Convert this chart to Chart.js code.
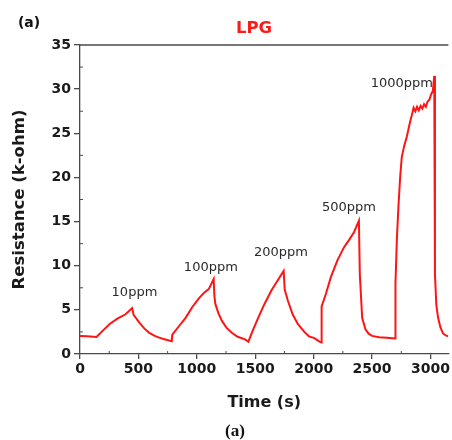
<!DOCTYPE html>
<html>
<head>
<meta charset="utf-8">
<script src="https://cdn.jsdelivr.net/npm/chart.js@4.4.0/dist/chart.umd.min.js"></script>
<style>
  html, body { margin: 0; padding: 0; background: #fff; }
  #wrap { width: 452px; height: 440px; position: relative; }
</style>
</head>
<body>
<div id="wrap"><canvas id="lpgChart" width="452" height="440"></canvas></div>
<script>
// temps (s) et résistance (k-ohm)
const timeS = [
    0, 60, 141, 200, 254, 320, 390, 446, 460, 508, 550, 593, 640, 678, 730, 785,
    790, 850, 904, 960, 1017, 1060, 1102, 1144, 1150, 1158, 1185, 1215, 1255, 1299, 1350, 1412, 1441,
    1480, 1525, 1580, 1638, 1690, 1743, 1752, 1780, 1820, 1864, 1920, 1960, 2006, 2050, 2066,
    2068, 2104, 2147, 2203, 2260, 2302, 2345, 2387, 2395, 2415, 2443, 2470, 2500, 2560, 2627, 2697,
    2700, 2712, 2725, 2740, 2754, 2775, 2797, 2820, 2839, 2855, 2870, 2885, 2900, 2915, 2930,
    2945, 2960, 2975, 2990, 3005, 3020, 3032, 3038, 3050, 3065, 3085,
    3108, 3130, 3153
];
const resistance = [
    2.05, 2.0, 1.93, 2.7, 3.4, 4.0, 4.5, 5.2, 4.4, 3.56, 2.9, 2.4, 2.05, 1.85, 1.65, 1.45,
    2.2, 3.2, 4.1, 5.3, 6.3, 6.9, 7.35, 8.5, 6.6, 5.7, 4.6, 3.75, 2.95, 2.4, 1.95, 1.65, 1.4,
    2.7, 4.1, 5.7, 7.2, 8.3, 9.4, 7.3, 6.0, 4.5, 3.4, 2.5, 2.0, 1.8, 1.4, 1.3,
    5.4, 6.8, 8.7, 10.6, 12.1, 12.9, 13.8, 15.1, 9.0, 4.1, 2.8, 2.3, 2.05, 1.9, 1.85, 1.75,
    8.0, 13.0, 16.6, 20.0, 22.3, 23.6, 24.6, 26.0, 27.0, 27.9, 27.5, 28.0, 27.6, 28.1, 27.8,
    28.3, 28.0, 28.6, 28.8, 29.4, 29.8, 31.5, 9.0, 5.5, 4.1, 3.0,
    2.3, 2.1, 2.0
];

// étiquettes des concentrations
const labelTexts = ['10ppm', '100ppm', '200ppm', '500ppm', '1000ppm'];
const labelX = [466, 1120, 1720, 2302, 2754];
const labelY = [7.0, 9.8, 11.5, 16.6, 30.6];

// graduations
const xMajor = [0, 500, 1000, 1500, 2000, 2500, 3000];
const xMinor = [250, 750, 1250, 1750, 2250, 2750];
const yMajor = [0, 5, 10, 15, 20, 25, 30, 35];
const yMinor = [2.5, 7.5, 12.5, 17.5, 22.5, 27.5, 32.5];

const axisColor = '#4a4a4a';

// Plugin pour les textes et les petites graduations intérieures
const extras = {
    id: 'extras',
    afterDatasetsDraw(chart) {
        const ctx = chart.ctx;
        const area = chart.chartArea;
        const xs = chart.scales.x;
        const ys = chart.scales.y;
        ctx.save();
        ctx.strokeStyle = axisColor;
        ctx.lineWidth = 1.3;
        // ligne du haut
        ctx.beginPath();
        ctx.moveTo(area.left, area.top);
        ctx.lineTo(area.right, area.top);
        ctx.stroke();
        // graduations mineures (vers l'intérieur)
        ctx.lineWidth = 1;
        for (const v of xMinor) {
            const px = xs.getPixelForValue(v);
            ctx.beginPath();
            ctx.moveTo(px, area.bottom);
            ctx.lineTo(px, area.bottom - 3);
            ctx.stroke();
        }
        for (const v of yMinor) {
            const py = ys.getPixelForValue(v);
            ctx.beginPath();
            ctx.moveTo(area.left, py);
            ctx.lineTo(area.left + 3, py);
            ctx.stroke();
        }
        // étiquettes ppm
        ctx.fillStyle = '#2a2a2a';
        ctx.font = '13px "DejaVu Sans"';
        ctx.textAlign = 'center';
        ctx.textBaseline = 'middle';
        for (let i = 0; i < labelTexts.length; i++) {
            ctx.fillText(labelTexts[i], xs.getPixelForValue(labelX[i]), ys.getPixelForValue(labelY[i]));
        }
        // titre LPG
        ctx.fillStyle = '#ff1a1a';
        ctx.font = 'bold 16.5px "DejaVu Sans"';
        ctx.fillText('LPG', 254, 29);
        // (a) en haut à gauche
        ctx.fillStyle = '#111';
        ctx.font = 'bold 14px "DejaVu Sans"';
        ctx.fillText('(a)', 29, 23);
        // (a) en bas
        ctx.font = 'bold 17px "Liberation Serif"';
        ctx.fillText('(a)', 235, 432);
        ctx.restore();
    }
};

let ctx = document.getElementById('lpgChart').getContext('2d');
let chart = new Chart(ctx, {
    type: 'line',
    data: {
        datasets: [{
            data: timeS.map((t, i) => ({x: t, y: resistance[i]})),
            borderColor: '#ff1414',
            borderWidth: 2,
            pointRadius: 0,
            tension: 0,
            fill: false
        }]
    },
    options: {
        responsive: false,
        animation: false,
        layout: { padding: { top: 45, left: 0, right: 0, bottom: 0 } },
        plugins: {
            legend: { display: false },
            tooltip: { enabled: false }
        },
        scales: {
            x: {
                type: 'linear',
                min: 0,
                max: 3153,
                afterBuildTicks: (scale) => { scale.ticks = xMajor.map(v => ({value: v})); },
                afterFit: (scale) => { scale.height = 86; },
                ticks: {
                    color: '#1a1a1a',
                    font: { family: 'DejaVu Sans', size: 14, weight: 'bold' },
                    padding: 2,
                    maxRotation: 0,
                    autoSkip: false,
                    callback: (v) => String(v)
                },
                grid: { drawOnChartArea: false, drawTicks: true, tickLength: 5, color: axisColor, lineWidth: 1.3 },
                border: { display: true, color: axisColor, width: 1.3 },
                title: {
                    display: true,
                    text: 'Time (s)',
                    color: '#1a1a1a',
                    font: { family: 'DejaVu Sans', size: 16, weight: 'bold' },
                    padding: { top: 0, bottom: 28 }
                }
            },
            y: {
                type: 'linear',
                min: 0,
                max: 35,
                afterBuildTicks: (scale) => { scale.ticks = yMajor.map(v => ({value: v})); },
                afterFit: (scale) => { scale.width = 80; },
                ticks: {
                    color: '#1a1a1a',
                    font: { family: 'DejaVu Sans', size: 14, weight: 'bold' },
                    padding: 3,
                    callback: (v) => String(v)
                },
                grid: { drawOnChartArea: false, drawTicks: true, tickLength: 6, color: axisColor, lineWidth: 1.3 },
                border: { display: true, color: axisColor, width: 1.3 },
                title: {
                    display: true,
                    text: 'Resistance (k-ohm)',
                    color: '#1a1a1a',
                    font: { family: 'DejaVu Sans', size: 16.5, weight: 'bold' },
                    padding: { top: 10, bottom: 0 }
                }
            }
        }
    },
    plugins: [extras]
});
</script>
</body>
</html>
